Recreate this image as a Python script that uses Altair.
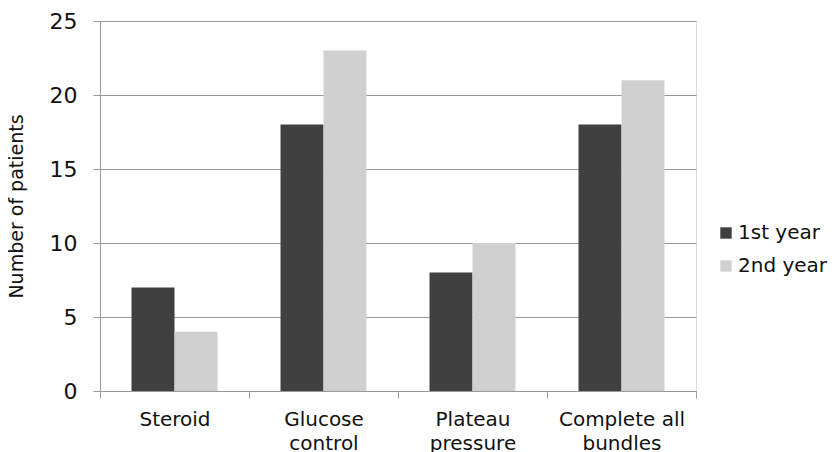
import altair as alt
import pandas as pd

categories = ["Steroid", "Glucose|control", "Plateau|pressure", "Complete all|bundles"]
series = ["1st year", "2nd year"]
year1 = [7, 18, 8, 18]
year2 = [4, 23, 10, 21]
colors = ["#404040", "#d0d0d0"]

rows = []
for c, a, b in zip(categories, year1, year2):
    rows.append({"cat": c, "series": series[0], "value": a})
    rows.append({"cat": c, "series": series[1], "value": b})
df = pd.DataFrame(rows)

font = "DejaVu Sans"

chart = alt.Chart(df).mark_bar().encode(
    x=alt.X("cat:N", sort=categories, title=None,
            scale=alt.Scale(paddingInner=0, paddingOuter=0),
            axis=alt.Axis(labelExpr="split(datum.label, '|')", labelAngle=0,
                          labelFontSize=20, labelFont=font, labelColor="#111",
                          labelPadding=11, labelLineHeight=24,
                          tickBand="extent", tickSize=7, tickColor="#999",
                          domainColor="#999", grid=False)),
    xOffset=alt.XOffset("series:N", sort=series,
                        scale=alt.Scale(paddingInner=0, paddingOuter=0.733)),
    y=alt.Y("value:Q", title="Number of patients",
            scale=alt.Scale(domain=[0, 25]),
            axis=alt.Axis(values=[0, 5, 10, 15, 20, 25], labelFontSize=22,
                          labelFont=font, labelColor="#111", labelPadding=16,
                          tickSize=7, tickColor="#999", domainColor="#999",
                          gridColor="#999", titleFont=font, titleFontSize=19,
                          titleFontWeight="normal", titleColor="#111",
                          titlePadding=23)),
    color=alt.Color("series:N", sort=series,
                    scale=alt.Scale(domain=series, range=colors),
                    legend=alt.Legend(title=None, orient="none", legendX=616,
                                      legendY=202, symbolType="square",
                                      symbolSize=130, symbolStrokeWidth=0,
                                      labelFontSize=20, labelFont=font,
                                      labelColor="#111", rowPadding=13,
                                      labelOffset=2)),
).properties(
    width=596, height=370,
    autosize=alt.AutoSizeParams(type="none"),
    padding={"left": 92, "top": 13, "right": 134, "bottom": 61},
).configure_view(stroke=None).configure(background="white")

chart.save("out.html", embed_options={"renderer": "svg", "actions": False})
